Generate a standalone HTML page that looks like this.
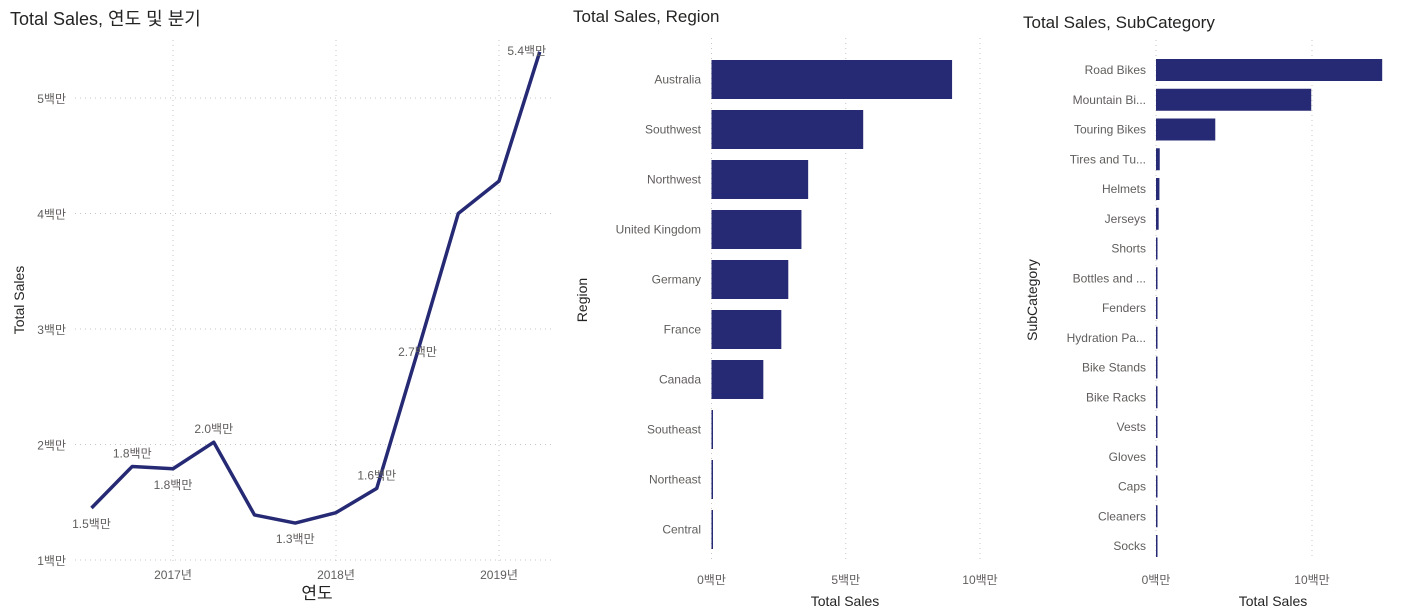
<!DOCTYPE html>
<html><head><meta charset="utf-8">
<style>
body{margin:0;background:#fff;width:1406px;height:611px;overflow:hidden;font-family:"Liberation Sans","Noto Sans CJK KR",sans-serif;}
svg text{font-family:"Liberation Sans","Noto Sans CJK KR",sans-serif;}
</style></head>
<body>
<svg id="c" width="1406" height="611" xmlns="http://www.w3.org/2000/svg">
<text x="10" y="25" font-size="18" fill="#252423">Total Sales, 연도 및 분기</text>
<text x="573" y="22" font-size="17" fill="#252423">Total Sales, Region</text>
<text x="1023" y="28" font-size="17" fill="#252423">Total Sales, SubCategory</text>
<g id="g1"></g>
<g id="g2"></g>
<g id="g3"></g>
</svg>
<script>
const quarterPos = [-2,-1,0,1,2,3,4,5,6,7,8,9];
const lineValues = [1.45,1.81,1.79,2.02,1.39,1.32,1.41,1.62,2.8,4.0,4.28,5.4];
const lineLabels = ["1.5백만","1.8백만","1.8백만","2.0백만","","1.3백만","","1.6백만","2.7백만","","","5.4백만"];
const yTicks = [1,2,3,4,5];
const yearTicks = ["2017년","2018년","2019년"];
const regions = ["Australia","Southwest","Northwest","United Kingdom","Germany","France","Canada","Southeast","Northeast","Central"];
const regionValues = [8.96,5.65,3.6,3.35,2.86,2.6,1.93,0.02,0.02,0.02];
const regionTicks = [0,5,10];
const subcats = ["Road Bikes","Mountain Bi...","Touring Bikes","Tires and Tu...","Helmets","Jerseys","Shorts","Bottles and ...","Fenders","Hydration Pa...","Bike Stands","Bike Racks","Vests","Gloves","Caps","Cleaners","Socks"];
const subValues = [14.5,9.95,3.8,0.24,0.22,0.17,0.07,0.06,0.05,0.04,0.04,0.04,0.03,0.03,0.02,0.02,0.02];
const subTicks = [0,10];

const NS="http://www.w3.org/2000/svg";
function mk(parent,tag,attrs,text){const e=document.createElementNS(NS,tag);for(const k in attrs)e.setAttribute(k,attrs[k]);if(text!==undefined)e.textContent=text;parent.appendChild(e);return e;}
const BAR="#262a74", TICK="#605e5c", GRID="#c8c6c4";

const g1=document.getElementById('g1');
const lx=q=>173+q*40.75, ly=v=>560-(v-1)*115.5;
yTicks.forEach(v=>{
  let l=mk(g1,'line',{x1:75,x2:552,y1:ly(v),y2:ly(v),stroke:GRID,'stroke-dasharray':'1 4'});
  
  
  let t=mk(g1,'text',{x:66,y:ly(v)+5,'font-size':12,fill:TICK,'text-anchor':'end'},v+'백만');
  
  
});
yearTicks.forEach((s,i)=>{
  let l=mk(g1,'line',{x1:lx(i*4),x2:lx(i*4),y1:40,y2:562,stroke:GRID,'stroke-dasharray':'1 4'});
  
  
  let t=mk(g1,'text',{x:lx(i*4),y:579,'font-size':12,fill:TICK,'text-anchor':'middle'},s);
  
  
});
let p=mk(g1,'polyline',{points:quarterPos.map((q,i)=>lx(q)+','+ly(lineValues[i])).join(' '),fill:'none',stroke:BAR,'stroke-width':3.5,'stroke-linejoin':'round'});


const below=[1,0,1,0,1,1,1,0,0,0,0,0];
quarterPos.forEach((q,i)=>{
  if(!lineLabels[i])return;
  let y=below[i]?ly(lineValues[i])+20:ly(lineValues[i])-9;
  if(i===8)y=ly(lineValues[i])+4;
  if(i===11)y=ly(lineValues[i])+3;
  let x=lx(q); if(i===11)x-=13;
  let t=mk(g1,'text',{x:x,y:y,'font-size':12,fill:TICK,'text-anchor':'middle'},lineLabels[i]);
  
  
});
let a=mk(g1,'text',{x:0,y:0,'font-size':14,fill:'#252423','text-anchor':'middle',transform:'translate(24,300) rotate(-90)'},'Total Sales');


a=mk(g1,'text',{x:317,y:599,'font-size':17,fill:'#252423','text-anchor':'middle'},'연도');



function bars(g,cats,vals,ticks,x0,ppm,top,step,bh,gTop,gBot,labelX,axisTitle,axX,axTitleX){
  ticks.forEach(v=>{
    let l=mk(g,'line',{x1:x0+v*ppm,x2:x0+v*ppm,y1:gTop,y2:gBot,stroke:GRID,'stroke-dasharray':'1 4'});
    
    
    let t=mk(g,'text',{x:x0+v*ppm,y:584,'font-size':12,fill:TICK,'text-anchor':'middle'},v+'백만');
    
    
  });
  cats.forEach((c,i)=>{
    const cy=top+i*step;
    let r=mk(g,'rect',{x:x0,y:cy-bh/2,width:Math.max(vals[i]*ppm,1.5),height:bh,fill:BAR});
    
    
    let t=mk(g,'text',{x:labelX,y:cy+4,'font-size':12,fill:TICK,'text-anchor':'end'},c);
    
    
  });
  let t=mk(g,'text',{x:0,y:0,'font-size':14,fill:'#252423','text-anchor':'middle',transform:'translate('+axX+',300) rotate(-90)'},axisTitle);
  
  
  t=mk(g,'text',{x:axTitleX,y:606,'font-size':14,fill:'#252423','text-anchor':'middle'},'Total Sales');
  
  
}
bars(document.getElementById('g2'),regions,regionValues,regionTicks,711.5,26.85,79.5,50,39,38,560,701,'Region',587,845);
bars(document.getElementById('g3'),subcats,subValues,subTicks,1156,15.6,70,29.75,22,40,560,1146,'SubCategory',1037,1273);
</script>
</body></html>
